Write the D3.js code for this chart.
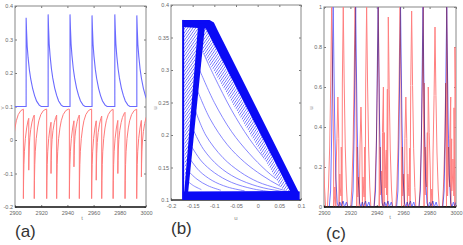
<!DOCTYPE html>
<html>
<head>
<meta charset="utf-8">
<script src="https://cdn.jsdelivr.net/npm/d3@7"></script>
<style>
body { margin: 0; background: #fff; }
svg { display: block; }
.tick text { font-family: "Liberation Sans Narrow", "Liberation Sans", Arial, sans-serif; font-size: 5.5px; fill: #666; }
.lbl { font-family: "Liberation Sans Narrow", "Liberation Sans", Arial, sans-serif; fill: #888; font-size: 6px; }
.panel { font-family: "Liberation Sans Narrow", "Liberation Sans", Arial, sans-serif; fill: #333; font-size: 17px; }
</style>
</head>
<body>
<div id="chart"></div>
<script>
// ---- panel (a): time series ----
var aSpikeTimes = [2908.5, 2925.3, 2942, 2958.8, 2976.2, 2993];
var aSpikePeaks = [0.365, 0.375, 0.375, 0.372, 0.375, 0.372];
// blue decay after a spike: [dt, fraction of amplitude above 0.1]
var aBlueShape = [[0, 1], [0.3, 0.86], [0.8, 0.68], [1.5, 0.55], [2.5, 0.41], [3.5, 0.31], [5, 0.2], [6.5, 0.12], [8, 0.06], [10, 0.015], [11.5, 0]];
// red drops: [time, lowest value]
var aRedDrops = [[2897.5, -0.175], [2906.4, -0.175], [2910.5, -0.09], [2914.7, -0.175], [2924.2, -0.175], [2927.5, -0.1],
  [2931.8, -0.175], [2941.5, -0.175], [2945, -0.08], [2949.1, -0.175], [2958.5, -0.175], [2962, -0.12],
  [2966.2, -0.175], [2974.9, -0.175], [2978.5, -0.1], [2984, -0.175], [2992.9, -0.175], [2996.5, -0.11]];
// red recovery: [dt, fraction of depth left]
var aRedRecover = [[0, 1], [0.15, 0.8], [0.4, 0.62], [0.8, 0.47], [1.5, 0.33], [2.5, 0.21], [3.5, 0.13], [5, 0.06], [7, 0.015], [9, 0]];
var aRedTop = 0.092;
var aYTicks = [-0.2, -0.1, 0, 0.1, 0.2, 0.3, 0.4];
var tTicks = [2900, 2920, 2940, 2960, 2980, 3000];

// ---- panel (b): phase portrait ----
var bDenseDiag = [[-0.173, 0.377], [-0.111, 0.377], [-0.101, 0.373], [-0.093, 0.362], [0.094, 0.113], [0.094, 0.105],
  [0.079, 0.108], [-0.12, 0.364], [-0.173, 0.366]];
var bDenseLeft = [[-0.137, 0.372], [-0.121, 0.372], [-0.161, 0.108], [-0.17, 0.108]];
var bDenseBottom = [[-0.173, 0.1], [0.097, 0.1], [0.097, 0.113], [0.085, 0.114], [-0.173, 0.113]];
var bLeftEdge = [[-0.172, 0.1], [-0.172, 0.377]];
var bHatchDiag = [[-0.12, 0.364], [0.079, 0.108], [0.055, 0.118], [-0.16, 0.366]];
var bHatchLeft = [[-0.171, 0.366], [-0.137, 0.366], [-0.168, 0.12]];
var bCurves = [
  [[-0.128, 0.33], [-0.1, 0.29], [-0.06, 0.238], [-0.02, 0.195], [0.02, 0.16], [0.055, 0.132], [0.085, 0.111]],
  [[-0.134, 0.3], [-0.1, 0.25], [-0.06, 0.205], [-0.02, 0.172], [0.02, 0.145], [0.055, 0.126], [0.085, 0.111]],
  [[-0.14, 0.27], [-0.11, 0.225], [-0.07, 0.185], [-0.03, 0.158], [0.01, 0.138], [0.05, 0.122], [0.085, 0.111]],
  [[-0.145, 0.24], [-0.12, 0.2], [-0.08, 0.165], [-0.04, 0.143], [0, 0.128], [0.045, 0.118], [0.085, 0.111]],
  [[-0.15, 0.21], [-0.125, 0.178], [-0.09, 0.152], [-0.05, 0.134], [0, 0.121], [0.05, 0.114], [0.085, 0.111]],
  [[-0.155, 0.185], [-0.13, 0.16], [-0.1, 0.142], [-0.06, 0.127], [-0.01, 0.117], [0.04, 0.112]],
  [[-0.158, 0.165], [-0.135, 0.145], [-0.105, 0.13], [-0.07, 0.12], [-0.03, 0.114]],
  [[-0.161, 0.145], [-0.14, 0.132], [-0.115, 0.122], [-0.085, 0.115]],
  [[-0.164, 0.13], [-0.148, 0.122], [-0.13, 0.116]]
];
var bXTicks = [-0.2, -0.15, -0.1, -0.05, 0, 0.05, 0.1];
var bYTicks = [0.1, 0.15, 0.2, 0.25, 0.3, 0.35, 0.4];

// ---- panel (c): time series 0..1 ----
var cBlueTimes = [2907, 2924, 2941, 2958, 2975, 2993];
var cBlueShape = [[-3, 0], [-2, 0.08], [-1.2, 0.35], [-0.6, 0.7], [0, 1], [0.5, 0.72], [1.1, 0.42], [2, 0.14], [3, 0.02],
  [4, 0], [5, 0.025], [6, 0.005], [7.5, 0.03], [8.5, 0], [10, 0.025], [11, 0]];
var cRedTimes = [2898, 2905.8, 2910.5, 2914.6, 2923.5, 2928, 2932.3, 2941.1, 2945, 2948.7, 2957.6, 2962, 2966.4,
  2975.2, 2979, 2984.1, 2992.9, 2996, 2999.2];
var cRedPeaks = [1, 1, 0.55, 1, 1, 0.5, 1, 1, 0.6, 0.95, 1, 0.55, 0.98, 1, 0.6, 0.9, 1, 0.55, 0.8];
var cRedShape = [[-3.2, 0], [-2.4, 0.1], [-1.5, 0.3], [-0.7, 0.62], [0, 1], [0.7, 0.62], [1.5, 0.3], [2.4, 0.1], [3.2, 0]];
var cYTicks = [0, 0.2, 0.4, 0.6, 0.8, 1];

var svg = d3.select("#chart").append("svg").attr("width", 463).attr("height", 245);
svg.append("rect").attr("width", 463).attr("height", 245).attr("fill", "#fff");

var fmt = function (d) { return String(+d.toFixed(2)); };

function drawFrame(x, y, xt, yt, id, bottomColor) {
  var g = svg.append("g");
  var x0 = x.range()[0], x1 = x.range()[1], y0 = y.range()[0], y1 = y.range()[1];
  g.append("g").attr("transform", "translate(" + x0 + ",0)")
    .call(d3.axisLeft(y).tickValues(yt).tickFormat(fmt).tickSizeInner(-2).tickSizeOuter(0).tickPadding(2));
  g.append("g").attr("transform", "translate(" + x1 + ",0)")
    .call(d3.axisRight(y).tickValues(yt).tickFormat("").tickSizeInner(-2).tickSizeOuter(0));
  g.append("g").attr("transform", "translate(0," + y0 + ")")
    .call(d3.axisBottom(x).tickValues(xt).tickFormat(fmt).tickSizeInner(-2).tickSizeOuter(0).tickPadding(4));
  g.append("g").attr("transform", "translate(0," + y1 + ")")
    .call(d3.axisTop(x).tickValues(xt).tickFormat("").tickSizeInner(-2).tickSizeOuter(0));
  g.selectAll(".domain").remove();
  g.selectAll(".tick line").attr("stroke", "#777");
  g.append("rect").attr("x", x0).attr("y", y1).attr("width", x1 - x0).attr("height", y0 - y1)
    .attr("fill", "none").attr("stroke", "#888").attr("stroke-width", 1);
  g.append("line").attr("x1", x0).attr("x2", x1).attr("y1", y0).attr("y2", y0)
    .attr("stroke", bottomColor).attr("stroke-width", 1.3);
  svg.append("clipPath").attr("id", id).append("rect")
    .attr("x", x0).attr("y", y1).attr("width", x1 - x0).attr("height", y0 - y1);
  return g;
}

// ======== panel (a) ========
var xa = d3.scaleLinear().domain([2900, 3000]).range([15, 146]);
var ya = d3.scaleLinear().domain([-0.2, 0.4]).range([207, 6]);

function buildBlueA() {
  var pts = [[2899, 0.1]];
  aSpikeTimes.forEach(function (ts, i) {
    var amp = aSpikePeaks[i] - 0.1;
    var next = i + 1 < aSpikeTimes.length ? aSpikeTimes[i + 1] : 3005;
    pts.push([ts, 0.1]);
    aBlueShape.forEach(function (p) {
      if (ts + p[0] < next) pts.push([ts + p[0], 0.1 + amp * p[1]]);
    });
  });
  return pts;
}

function buildRedA() {
  var pts = [];
  var rec = d3.scaleLinear().domain(aRedRecover.map(function (r) { return r[0]; }))
    .range(aRedRecover.map(function (r) { return r[1]; })).clamp(true);
  aRedDrops.forEach(function (d, i) {
    var next = i + 1 < aRedDrops.length ? aRedDrops[i + 1][0] : 3005;
    var depth = aRedTop - d[1];
    aRedRecover.forEach(function (r) {
      if (d[0] + r[0] < next) pts.push([d[0] + r[0], aRedTop - depth * r[1]]);
    });
    pts.push([next, aRedTop - depth * rec(next - d[0])]);
  });
  return pts;
}

drawFrame(xa, ya, tTicks, aYTicks, "clipA", "#222");
var lineA = d3.line().x(function (d) { return xa(d[0]); }).y(function (d) { return ya(d[1]); });
var ga = svg.append("g").attr("clip-path", "url(#clipA)");
ga.append("path").attr("d", lineA(buildRedA())).attr("fill", "none").attr("stroke", "#ff7a7a").attr("stroke-width", 1);
ga.append("path").attr("d", lineA(buildBlueA())).attr("fill", "none").attr("stroke", "#6a6aff").attr("stroke-width", 1.1);

// ======== panel (b) ========
var xb = d3.scaleLinear().domain([-0.2, 0.1]).range([171, 301]);
var yb = d3.scaleLinear().domain([0.1, 0.4]).range([200, 5]);
drawFrame(xb, yb, bXTicks, bYTicks, "clipB", "#444");

var defs = svg.append("defs");
var pat = defs.append("pattern").attr("id", "hatch").attr("patternUnits", "userSpaceOnUse")
  .attr("width", 2.2).attr("height", 2.2).attr("patternTransform", "rotate(35)");
pat.append("rect").attr("width", 2.2).attr("height", 2.2).attr("fill", "#fff");
pat.append("line").attr("x1", 0).attr("y1", 0).attr("x2", 0).attr("y2", 2.2)
  .attr("stroke", "#3a3aff").attr("stroke-width", 1.1);

var lineB = d3.line().x(function (d) { return xb(d[0]); }).y(function (d) { return yb(d[1]); });
var gb = svg.append("g").attr("clip-path", "url(#clipB)");
bCurves.forEach(function (c) {
  gb.append("path").attr("d", lineB.curve(d3.curveCatmullRom)(c)).attr("fill", "none")
    .attr("stroke", "#6868ff").attr("stroke-width", 0.8);
});
lineB.curve(d3.curveLinear);
[bHatchDiag, bHatchLeft].forEach(function (p) {
  gb.append("path").attr("d", lineB(p) + "Z").attr("fill", "url(#hatch)");
});
[bDenseDiag, bDenseLeft, bDenseBottom].forEach(function (p) {
  gb.append("path").attr("d", lineB(p) + "Z").attr("fill", "#0a0af5");
});
gb.append("path").attr("d", lineB(bLeftEdge)).attr("stroke", "#0a0af5").attr("stroke-width", 2).attr("fill", "none");

// ======== panel (c) ========
var xc = d3.scaleLinear().domain([2900, 3000]).range([324, 456]);
var yc = d3.scaleLinear().domain([0, 1]).range([207, 7]);
drawFrame(xc, yc, tTicks, cYTicks, "clipC", "#111");

function buildPeaks(times, heights, shape) {
  var pts = [];
  times.forEach(function (ts, i) {
    shape.forEach(function (p) { pts.push([ts + p[0], p[1] * heights[i]]); });
  });
  pts.sort(function (a, b) { return a[0] - b[0]; });
  return pts;
}
var lineC = d3.line().x(function (d) { return xc(d[0]); }).y(function (d) { return yc(d[1]); });
var gc = svg.append("g").attr("clip-path", "url(#clipC)");
gc.append("path").attr("d", lineC(buildPeaks(cRedTimes, cRedPeaks, cRedShape)))
  .attr("fill", "none").attr("stroke", "#ff8080").attr("stroke-width", 1);
gc.append("path").attr("d", lineC(buildPeaks(cBlueTimes, cBlueTimes.map(function () { return 1; }), cBlueShape)))
  .attr("fill", "none").attr("stroke", "#7272ff").attr("stroke-width", 1).style("mix-blend-mode", "multiply");
gc.append("line").attr("x1", 324).attr("x2", 456).attr("y1", 207).attr("y2", 207).attr("stroke", "#111").attr("stroke-width", 1.5);

// ---- axis names and panel letters ----
function lbl(x, y, t, rot) {
  svg.append("text").attr("class", "lbl").attr("x", x).attr("y", y).attr("text-anchor", "middle")
    .attr("transform", rot ? "rotate(-90," + x + "," + y + ")" : null).text(t);
}
lbl(4, 108, "v", true);
lbl(157, 108, "u", true);
lbl(82, 220, "t", false);
lbl(236, 220, "u", false);
lbl(313, 108, "u", true);
lbl(390, 219, "t", false);

svg.append("text").attr("class", "panel").attr("x", 15).attr("y", 237).text("(a)");
svg.append("text").attr("class", "panel").attr("x", 171).attr("y", 234).text("(b)");
svg.append("text").attr("class", "panel").attr("x", 326).attr("y", 239).text("(c)");
</script>
</body>
</html>
